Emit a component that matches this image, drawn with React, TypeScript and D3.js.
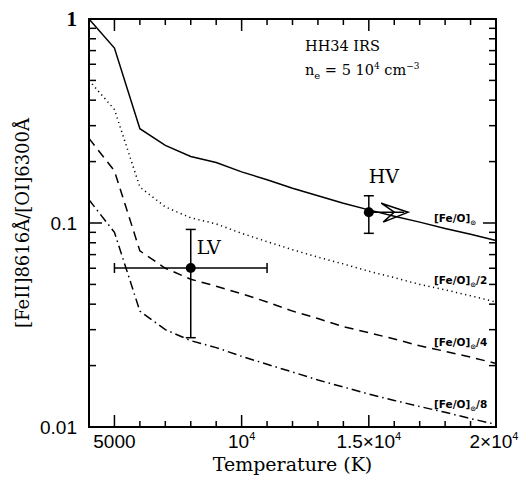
import React from "react";
import * as d3 from "d3";

const temps = [4000, 5000, 6000, 7000, 8000, 9000, 10000, 11000, 12000, 13000, 14000, 15000, 16000, 17000, 18000, 19000, 20000];
const solar = [1.0, 0.72, 0.29, 0.24, 0.212, 0.198, 0.178, 0.163, 0.148, 0.136, 0.125, 0.116, 0.108, 0.101, 0.094, 0.088, 0.082];
const half = [0.5, 0.36, 0.15, 0.12, 0.106, 0.099, 0.089, 0.081, 0.074, 0.068, 0.063, 0.058, 0.054, 0.05, 0.047, 0.044, 0.041];
const quarter = [0.26, 0.18, 0.073, 0.06, 0.053, 0.049, 0.045, 0.041, 0.037, 0.034, 0.031, 0.029, 0.027, 0.025, 0.0235, 0.022, 0.0205];
const eighth = [0.13, 0.09, 0.037, 0.03, 0.0265, 0.0245, 0.0222, 0.0203, 0.0186, 0.017, 0.0157, 0.0145, 0.0135, 0.0126, 0.0118, 0.011, 0.0103];

const curveLabels = ["", "/2", "/4", "/8"];

const lvPoint = { t: 8000, r: 0.0602, tLo: 5000, tHi: 11000, rLo: 0.0274, rHi: 0.093 };
const hvPoint = { t: 15000, r: 0.113, rLo: 0.089, rHi: 0.136, tArrow: 16550 };

const yTickMajor = [0.01, 0.1, 1];

const W = 525, H = 477;
const L = 89, R = 496, T = 19, B = 427;

export default function App() {
  const x = d3.scaleLinear().domain([4000, 20000]).range([L, R]);
  const y = d3.scaleLog().domain([0.01, 1]).range([B, T]);

  const series = [solar, half, quarter, eighth];
  const dashes = ["none", "1.2,3.5", "9,6", "9,4,1.5,4"];
  const line = d3
    .line<number>()
    .x((_, i) => x(temps[i]))
    .y((d) => y(d));

  const xMinor = d3.range(4000, 20001, 1000);
  const yMinor: number[] = [];
  [0.01, 0.1].forEach((dec) => {
    for (let k = 2; k <= 9; k++) yMinor.push(dec * k);
  });

  const serif = "DejaVu Serif";
  const sans = "Liberation Sans";

  const ticks: JSX.Element[] = [];
  xMinor.forEach((v, i) => {
    const major = v % 5000 === 0;
    const len = major ? 12 : 6;
    const px = x(v);
    ticks.push(<line key={"xb" + i} x1={px} x2={px} y1={B} y2={B - len} />);
    ticks.push(<line key={"xt" + i} x1={px} x2={px} y1={T} y2={T + len} />);
  });
  yMinor.forEach((v, i) => {
    const py = y(v);
    ticks.push(<line key={"yl" + i} x1={L} x2={L + 7} y1={py} y2={py} />);
    ticks.push(<line key={"yr" + i} x1={R} x2={R - 7} y1={py} y2={py} />);
  });
  yTickMajor.forEach((v, i) => {
    const py = y(v);
    ticks.push(<line key={"ylm" + i} x1={L} x2={L + 13} y1={py} y2={py} />);
    ticks.push(<line key={"yrm" + i} x1={R} x2={R - 13} y1={py} y2={py} />);
  });

  const hx = x(hvPoint.t), hy = y(hvPoint.r);
  const ax = x(hvPoint.tArrow);

  return (
    <svg width={W} height={H} style={{ position: "absolute", left: 0, top: 0 }}>
      <rect width={W} height={H} fill="#fff" />
      {series.map((s, i) => (
        <path
          key={i}
          d={line(s) || ""}
          fill="none"
          stroke="#000"
          strokeWidth={1.5}
          strokeDasharray={dashes[i]}
        />
      ))}
      <g stroke="#000" strokeWidth={1.5}>{ticks}</g>
      <rect x={L} y={T} width={R - L} height={B - T} fill="none" stroke="#000" strokeWidth={2} />

      {/* LV point */}
      <g stroke="#000" strokeWidth={1.5}>
        <line x1={x(lvPoint.tLo)} x2={x(lvPoint.tHi)} y1={y(lvPoint.r)} y2={y(lvPoint.r)} />
        <line x1={x(lvPoint.tLo)} x2={x(lvPoint.tLo)} y1={y(lvPoint.r) - 5} y2={y(lvPoint.r) + 5} />
        <line x1={x(lvPoint.tHi)} x2={x(lvPoint.tHi)} y1={y(lvPoint.r) - 5} y2={y(lvPoint.r) + 5} />
        <line x1={x(lvPoint.t)} x2={x(lvPoint.t)} y1={y(lvPoint.rLo)} y2={y(lvPoint.rHi)} />
        <line x1={x(lvPoint.t) - 5} x2={x(lvPoint.t) + 5} y1={y(lvPoint.rLo)} y2={y(lvPoint.rLo)} />
        <line x1={x(lvPoint.t) - 5} x2={x(lvPoint.t) + 5} y1={y(lvPoint.rHi)} y2={y(lvPoint.rHi)} />
      </g>
      <circle cx={x(lvPoint.t)} cy={y(lvPoint.r)} r={5} fill="#000" />

      {/* HV point */}
      <g stroke="#000" strokeWidth={1.5} fill="none">
        <line x1={hx} x2={hx} y1={y(hvPoint.rLo)} y2={y(hvPoint.rHi)} />
        <line x1={hx - 5} x2={hx + 5} y1={y(hvPoint.rLo)} y2={y(hvPoint.rLo)} />
        <line x1={hx - 5} x2={hx + 5} y1={y(hvPoint.rHi)} y2={y(hvPoint.rHi)} />
        <line x1={hx} x2={ax - 4} y1={hy} y2={hy} />
        <polygon
          points={`${ax},${hy} ${ax - 27},${hy - 9} ${ax - 14},${hy} ${ax - 25},${hy + 10}`}
          strokeLinejoin="miter"
        />
      </g>
      <circle cx={hx} cy={hy} r={5} fill="#000" />

      <text x={x(lvPoint.t) + 6} y={y(lvPoint.r) - 14} fontFamily={serif} fontSize={19}>LV</text>
      <text x={hx + 15} y={hy - 29} fontFamily={serif} fontSize={19} textAnchor="middle">HV</text>

      {/* annotations */}
      <text x={305} y={51} fontFamily={serif} fontSize={14.5}>HH34 IRS</text>
      <text x={305} y={75} fontFamily={serif} fontSize={14.5}>
        n<tspan fontSize={10} dy={4}>e</tspan>
        <tspan dy={-4}> = 5 10</tspan>
        <tspan fontSize={9} dy={-6}>4</tspan>
        <tspan dy={6}> cm</tspan>
        <tspan fontSize={9} dy={-6}>−3</tspan>
      </text>

      {curveLabels.map((lab, i) => (
        <text
          key={"cl" + i}
          x={434}
          y={[222, 284, 346, 408][i]}
          fontFamily="DejaVu Sans"
          fontWeight="bold"
          fontSize={10.5}
        >
          [Fe/O]<tspan fontSize={7} dy={3}>⊙</tspan>
          <tspan dy={-3}>{lab}</tspan>
        </text>
      ))}

      {/* x tick labels */}
      <g fontFamily={sans} fontSize={19} textAnchor="middle">
        <text x={x(5000)} y={448}>5000</text>
        <text x={x(10000)} y={448}>
          10<tspan fontSize={11} dy={-8}>4</tspan>
        </text>
        <text x={x(15000)} y={448}>
          1.5×10<tspan fontSize={11} dy={-8}>4</tspan>
        </text>
        <text x={x(20000) - 2} y={448}>
          2×10<tspan fontSize={11} dy={-8}>4</tspan>
        </text>
      </g>
      {/* y tick labels */}
      <g fontFamily={sans} fontSize={19} textAnchor="end">
        <text x={77} y={y(0.01) + 7}>0.01</text>
        <text x={77} y={y(0.1) + 7}>0.1</text>
        <text x={77} y={y(1) + 7} fontFamily="Liberation Serif" fontWeight="bold" fontSize={21}>1</text>
      </g>

      <text x={(L + R) / 2} y={471} fontFamily={serif} fontSize={19} textAnchor="middle">
        Temperature (K)
      </text>
      <text
        transform={`translate(29,${(T + B) / 2}) rotate(-90)`}
        fontFamily={serif}
        fontSize={18}
        textAnchor="middle"
      >
        [FeII]8616Å/[OI]6300Å
      </text>
    </svg>
  );
}
